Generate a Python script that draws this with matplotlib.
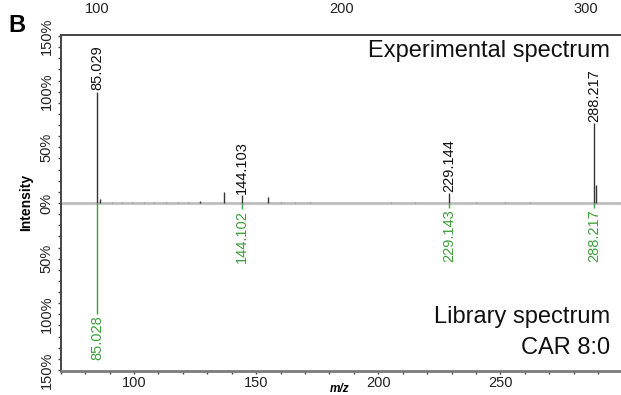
import matplotlib
matplotlib.use("Agg")
import matplotlib.pyplot as plt
from matplotlib.ticker import FixedLocator, MultipleLocator, FuncFormatter

plt.rcParams['font.family'] = ['Liberation Sans', 'DejaVu Sans']

# Experimental spectrum (upward)
exp_mz = [85.029, 86.03, 127.0, 136.8, 144.103, 155.0, 229.144, 288.217, 289.2]
exp_int = [100, 4, 2, 10, 7, 5, 8.7, 71.6, 16]
exp_noise_mz = [91, 95, 99, 104, 108, 113, 118, 122, 160, 166, 172, 205, 215, 240, 252, 262]
exp_noise_int = [1, 1, 1, 1, 1, 1, 1, 1, 1, 1, 1, 1, 1, 1, 1, 1]
exp_label_mz = [85.029, 144.103, 229.144, 288.217]
exp_label_int = [100, 7, 8.7, 71.6]
exp_labels = ["85.029", "144.103", "229.144", "288.217"]

# Library spectrum (downward)
lib_mz = [85.028, 144.102, 229.143, 288.217]
lib_int = [100, 5, 4.5, 4.5]
lib_labels = ["85.028", "144.102", "229.143", "288.217"]

x_ticks = [100, 150, 200, 250]
top_ticks = [100, 200, 300]
y_ticks = [-150, -100, -50, 0, 50, 100, 150]

W, H = 621, 395
fig = plt.figure(figsize=(W / 100, H / 100), dpi=100)
L, R, T, B = 60.7, 622.6, 34.5, 370.7
ax = fig.add_axes([L / W, (H - B) / H, (R - L) / W, (B - T) / H])

green = '#3f9e3f'
ax.axhline(0, color='#bdbdbd', lw=2, zorder=1)
ax.vlines(exp_noise_mz, 0, exp_noise_int, color='#888888', lw=0.8, zorder=2)
ax.vlines(exp_mz, 0, exp_int, color='#333333', lw=1.0, zorder=3)
ax.vlines(lib_mz, 0, [-v for v in lib_int], color=green, lw=1.0, zorder=3)

for mz, it, lab in zip(exp_label_mz, exp_label_int, exp_labels):
    ax.annotate(lab, (mz, it), xytext=(0, 1), textcoords='offset points',
                rotation=90, ha='center', va='bottom', fontsize=10.5, color='#111111')
for mz, it, lab in zip(lib_mz, lib_int, lib_labels):
    ax.annotate(lab, (mz, -it), xytext=(0, -1), textcoords='offset points',
                rotation=90, ha='center', va='top', fontsize=10.5, color=green)

ax.set_xlim(70, 300)
ax.set_ylim(-150.7, 151.4)

ax.xaxis.set_major_locator(FixedLocator(x_ticks))
ax.xaxis.set_minor_locator(MultipleLocator(10))
ax.yaxis.set_major_locator(FixedLocator(y_ticks))
ax.yaxis.set_minor_locator(MultipleLocator(10))
ax.yaxis.set_major_formatter(FuncFormatter(lambda v, p: f"{abs(int(round(v)))}%"))

ax.tick_params(axis='x', which='both', direction='out', length=2.5, width=1,
               color='#444444', labelsize=10.5, pad=1.5, labelcolor='#222222')
ax.tick_params(axis='y', which='both', direction='out', length=2.5, width=1,
               color='#444444', labelsize=10.5, pad=2.5, labelcolor='#222222')
for lab in ax.get_yticklabels():
    lab.set_rotation(90)
    lab.set_va('center')

for s in ['top', 'left']:
    ax.spines[s].set_color('#444444')
    ax.spines[s].set_linewidth(1.4)
ax.spines['bottom'].set_color('#7a7a7a')
ax.spines['bottom'].set_linewidth(2)
ax.spines['right'].set_visible(False)

sec = ax.secondary_xaxis('top', functions=(lambda x: x + 15, lambda x: x - 15))
sec.set_xticks(top_ticks)
sec.tick_params(length=0, labelsize=10.5, pad=13.5, labelcolor='#222222')
sec.spines['top'].set_visible(False)

ax.set_xlabel('m/z', style='italic', fontweight='bold', fontsize=8.5)
ax.xaxis.set_label_coords(0.497, -0.036)
ax.set_ylabel('Intensity', fontweight='bold', fontsize=10)
ax.yaxis.set_label_coords(-0.049, 0.5)

ax.text(0.9776, 0.932, 'Experimental spectrum', transform=ax.transAxes,
        ha='right', va='baseline', fontsize=17, color='#111111')
ax.text(0.9776, 0.142, 'Library spectrum', transform=ax.transAxes,
        ha='right', va='baseline', fontsize=17, color='#111111')
ax.text(0.9776, 0.0497, 'CAR 8:0', transform=ax.transAxes,
        ha='right', va='baseline', fontsize=17, color='#111111')

fig.text(8 / W, 1 - 32 / H, 'B', ha='left', va='baseline', fontsize=17,
         fontweight='bold')

fig.savefig('out.png', dpi=100)
